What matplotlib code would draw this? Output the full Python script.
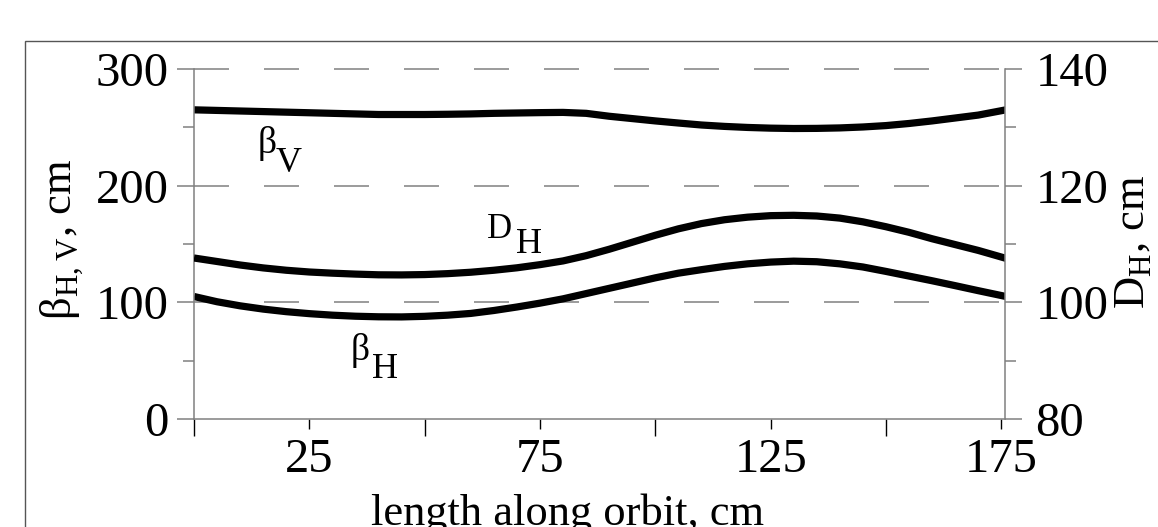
import numpy as np
import matplotlib
matplotlib.use('Agg')
import matplotlib.pyplot as plt
from matplotlib.patches import Rectangle

plt.rcParams['font.family'] = ['Liberation Serif', 'DejaVu Serif']
plt.rcParams['mathtext.fontset'] = 'custom'
plt.rcParams['mathtext.rm'] = 'Liberation Serif'
plt.rcParams['lines.scale_dashes'] = False

# length along orbit, cm
s = [0, 5, 10, 15, 20, 25, 30, 35, 40, 45, 50, 55, 60, 65, 70, 75, 80, 85,
     90, 95, 100, 105, 110, 115, 120, 125, 130, 135, 140, 145, 150, 155, 160, 165, 170, 176]
# beta functions, cm (left axis)
beta_v = [265, 264.5, 264, 263.5, 263, 262.5, 262, 261.5, 261, 261, 261, 261.2, 261.5, 262,
          262.3, 262.6, 262.8, 262, 259.5, 257.5, 255.5, 253.7, 252, 250.8, 249.9, 249.3,
          249, 249.1, 249.5, 250.3, 251.5, 253.3, 255.5, 258, 260.5, 265]
beta_h = [105, 100.5, 97, 94.2, 92, 90.3, 89, 88.1, 87.6, 87.5, 88, 89, 90.5, 93, 96, 99.3,
          103, 107.5, 112, 116.5, 121, 125, 128, 130.8, 133, 134.5, 135.3, 134.8, 133, 130.3,
          126.5, 122.5, 118.5, 114.3, 110, 105]
# dispersion, cm (right axis)
disp_h = [107.6, 107.0, 106.4, 105.9, 105.5, 105.2, 105.0, 104.84, 104.72, 104.7, 104.76,
          104.92, 105.16, 105.5, 105.92, 106.46, 107.1, 108.0, 109.1, 110.3, 111.5, 112.6,
          113.5, 114.16, 114.6, 114.86, 114.92, 114.8, 114.44, 113.8, 112.96, 112.0, 110.9,
          109.9, 108.9, 107.54]

x_major = [25, 75, 125, 175]
x_minor = [0, 50, 100, 150]
y_left_major = [0, 100, 200, 300]
y_left_minor = [50, 150, 250]
y_right_major = [80, 100, 120, 140]
y_right_minor = [90, 110, 130]

gray = '#808080'

fig = plt.figure(figsize=(11.58, 5.27), dpi=100)
ax = fig.add_axes([194 / 1158, 1 - 419 / 527, 811 / 1158, 350 / 527])
ax2 = ax.twinx()

ax.plot(s, beta_v, color='black', lw=5.2, solid_capstyle='butt')
ax.plot(s, beta_h, color='black', lw=5.2, solid_capstyle='butt')
ax2.plot(s, disp_h, color='black', lw=5.2, solid_capstyle='butt')

ax.set_xlim(0, 175.8)
ax.set_ylim(0, 300)
ax2.set_ylim(80, 140)

# dashed grid at the major left ticks
for v in y_left_major[1:]:
    ax.axhline(v, color=gray, lw=1.1, dashes=(25.2, 25.2), clip_on=False, zorder=0.5)

ax.set_xticks(x_major)
ax.set_xticks(x_minor, minor=True)
ax.set_yticks(y_left_major)
ax.set_yticks(y_left_minor, minor=True)
ax2.set_yticks(y_right_major)
ax2.set_yticks(y_right_minor, minor=True)

ax.tick_params(axis='x', which='major', direction='out', length=7.5, width=1,
               color='black', labelsize=35, pad=6)
ax.tick_params(axis='x', which='minor', direction='out', length=12, width=1, color='black')
ax.tick_params(axis='y', which='major', direction='out', length=12, width=1.1,
               color=gray, labelsize=35, pad=6)
ax.tick_params(axis='y', which='minor', direction='out', length=8, width=1.1, color=gray)
ax2.tick_params(axis='y', which='major', direction='out', length=12, width=1.1,
                color=gray, labelsize=35, pad=10)
ax2.tick_params(axis='y', which='minor', direction='out', length=8, width=1.1, color=gray)

for sp in ['top', 'right']:
    ax.spines[sp].set_visible(False)
for sp in ['top', 'left', 'bottom']:
    ax2.spines[sp].set_visible(False)
for sp in ['left', 'bottom']:
    ax.spines[sp].set_color(gray)
    ax.spines[sp].set_linewidth(1.1)
ax2.spines['right'].set_color(gray)
ax2.spines['right'].set_linewidth(1.1)

# curve labels
ax.text(13.8, 228, 'β', fontsize=27, ha='left', va='baseline')
ax.text(17.7, 212, 'V', fontsize=26, ha='left', va='baseline')
ax.text(63.6, 155, 'D', fontsize=25, ha='left', va='baseline')
ax.text(69.7, 142, 'H', fontsize=26, ha='left', va='baseline')
ax.text(33.9, 50.6, 'β', fontsize=27, ha='left', va='baseline')
ax.text(38.6, 35, 'H', fontsize=26, ha='left', va='baseline')

# axis titles
fig.text(62 / 1158, 1 - 240 / 527, r'β$_{\mathrm{H,V}}$, cm', rotation=90,
         fontsize=32, ha='center', va='center')
fig.text(1134 / 1158, 1 - 242 / 527, r'D$_{\mathrm{H}}$, cm', rotation=90,
         fontsize=32, ha='center', va='center')
fig.text(568 / 1158, 1 - 494 / 527, 'length along orbit, cm', fontsize=32,
         ha='center', va='top')

# outer frame
fig.add_artist(Rectangle((25 / 1158, -0.5), 2, 0.5 + (1 - 41 / 527), transform=fig.transFigure,
                         fill=False, edgecolor='#555555', lw=1))

fig.savefig('out.png', dpi=100)
